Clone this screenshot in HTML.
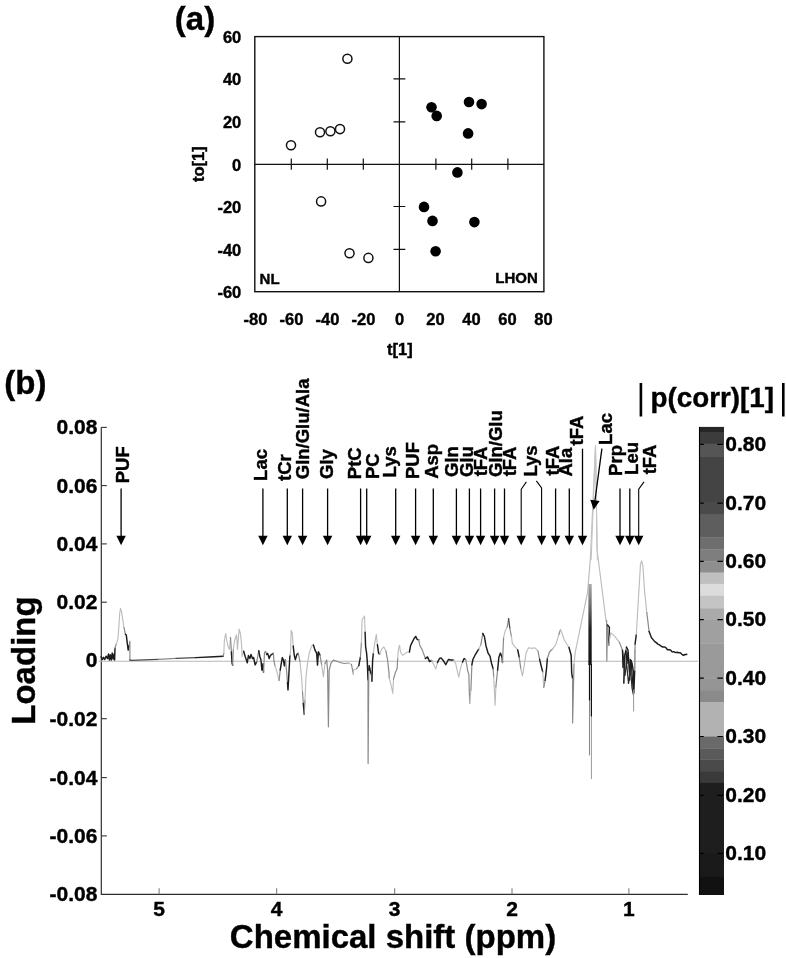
<!DOCTYPE html>
<html><head><meta charset="utf-8">
<style>
html,body{margin:0;padding:0;background:#fff;width:786px;height:958px;overflow:hidden}
svg{display:block;filter:grayscale(1) blur(0.3px)}
text{font-family:"Liberation Sans",sans-serif;font-weight:bold;fill:#000}
</style></head><body>
<svg width="786" height="958" viewBox="0 0 786 958">
<g stroke="#000" stroke-width="0.4">
<text x="174.85" y="29.95" font-size="33">(a)</text>
<g font-size="16.5" text-anchor="end"><text x="241.3" y="42.7">60</text><text x="241.3" y="85.1">40</text><text x="241.3" y="128.2">20</text><text x="241.3" y="170.6">0</text><text x="241.3" y="212.8">-20</text><text x="241.3" y="255.6">-40</text><text x="241.3" y="298.3">-60</text></g>
<g font-size="16.5" text-anchor="middle"><text x="255.5" y="324.6">-80</text><text x="291.5" y="324.6">-60</text><text x="327.5" y="324.6">-40</text><text x="363.5" y="324.6">-20</text><text x="399.5" y="324.6">0</text><text x="435.5" y="324.6">20</text><text x="471.5" y="324.6">40</text><text x="507.5" y="324.6">60</text><text x="543.5" y="324.6">80</text></g>
<text x="399.95" y="355.45" font-size="16.5" text-anchor="middle">t[1]</text>
<text x="203.65" y="164.2" font-size="16.5" text-anchor="middle" transform="rotate(-90 203.65 164.2)">to[1]</text>
<text x="259.55" y="283.6" font-size="15">NL</text>
<text x="537.75" y="283.45" font-size="15" text-anchor="end">LHON</text>
<text x="4.35" y="393.95" font-size="33">(b)</text>
<text x="35.0" y="724.7" font-size="33" transform="rotate(-90 35.0 724.7)">Loading</text>
<text x="229.8" y="948.1" font-size="33">Chemical shift (ppm)</text>
<g font-size="21" text-anchor="end"><text x="97.4" y="434.4">0.08</text><text x="97.4" y="492.6">0.06</text><text x="97.4" y="550.9">0.04</text><text x="97.4" y="609.2">0.02</text><text x="97.4" y="666.5">0</text><text x="97.4" y="725.7">-0.02</text><text x="97.4" y="784.6">-0.04</text><text x="97.4" y="842.9">-0.06</text><text x="97.4" y="901.2">-0.08</text></g>
<g font-size="21" text-anchor="middle"><text x="159.1" y="915.9">5</text><text x="276.7" y="915.9">4</text><text x="394.7" y="915.9">3</text><text x="512.0" y="915.9">2</text><text x="628.9" y="915.9">1</text></g>
<g font-size="21"><text x="725.3" y="450.9">0.80</text><text x="725.3" y="509.6">0.70</text><text x="725.3" y="567.8">0.60</text><text x="725.3" y="626.1">0.50</text><text x="725.3" y="684.7">0.40</text><text x="725.3" y="743.0">0.30</text><text x="725.3" y="801.9">0.20</text><text x="725.3" y="859.8">0.10</text></g>
<text x="650.55" y="407.3" font-size="27.8">p(corr)[1]</text>
<g><text x="128.8" y="483.3" font-size="18.5" transform="rotate(-90 128.8 483.3)">PUF</text><text x="267.35" y="480.9" font-size="18.5" transform="rotate(-90 267.35 480.9)">Lac</text><text x="290.6" y="480.9" font-size="18.5" transform="rotate(-90 290.6 480.9)">tCr</text><text x="308.6" y="479.25" font-size="18.5" transform="rotate(-90 308.6 479.25)">Gln/Glu/Ala</text><text x="332.8" y="478.95" font-size="18.5" transform="rotate(-90 332.8 478.95)">Gly</text><text x="361.0" y="479.2" font-size="18.5" transform="rotate(-90 361.0 479.2)">PtC</text><text x="378.95" y="479.05" font-size="18.5" transform="rotate(-90 378.95 479.05)">PC</text><text x="395.95" y="477.45" font-size="18.5" transform="rotate(-90 395.95 477.45)">Lys</text><text x="418.85" y="479.05" font-size="18.5" transform="rotate(-90 418.85 479.05)">PUF</text><text x="438.05" y="478.8" font-size="18.5" transform="rotate(-90 438.05 478.8)">Asp</text><text x="458.25" y="477.0" font-size="18.5" transform="rotate(-90 458.25 477.0)">Gln</text><text x="473.4" y="477.0" font-size="18.5" transform="rotate(-90 473.4 477.0)">Glu</text><text x="487.15" y="476.35" font-size="18.5" transform="rotate(-90 487.15 476.35)">tFA</text><text x="501.75" y="477.0" font-size="18.5" transform="rotate(-90 501.75 477.0)">Gln/Glu</text><text x="516.35" y="476.35" font-size="18.5" transform="rotate(-90 516.35 476.35)">tFA</text><text x="536.85" y="476.6" font-size="18.5" transform="rotate(-90 536.85 476.6)">Lys</text><text x="559.0" y="475.45" font-size="18.5" transform="rotate(-90 559.0 475.45)">tFA</text><text x="572.45" y="476.55" font-size="18.5" transform="rotate(-90 572.45 476.55)">Ala</text><text x="582.75" y="445.4" font-size="18.5" transform="rotate(-90 582.75 445.4)">tFA</text><text x="611.8" y="444.9" font-size="18.5" transform="rotate(-90 611.8 444.9)">Lac</text><text x="622.1" y="475.9" font-size="18.5" transform="rotate(-90 622.1 475.9)">Prp</text><text x="638.4" y="474.9" font-size="18.5" transform="rotate(-90 638.4 474.9)">Leu</text><text x="655.6" y="474.35" font-size="18.5" transform="rotate(-90 655.6 474.35)">tFA</text></g>
</g>
<!-- ===== Panel (a) ===== -->
<g stroke="#111" fill="none">
<rect x="254.8" y="36.6" width="289.1" height="255.1" stroke-width="1.4"/>
<line x1="254.8" y1="164.3" x2="543.9" y2="164.3" stroke-width="1.2"/>
<line x1="399.4" y1="36.6" x2="399.4" y2="291.7" stroke-width="1.2"/>
<path d="M291.3 158.5V169.8M327.3 158.5V169.8M363.3 158.5V169.8M435.9 158.5V169.8M471.7 158.5V169.8M507.9 158.5V169.8" stroke-width="1.2"/>
<path d="M393.5 78.8H405.3M393.5 121.9H405.3M393.5 206.5H405.3M393.5 249.3H405.3" stroke-width="1.2"/>
</g>
<g stroke="#111" stroke-width="1.5" fill="#fff">
<circle cx="347.4" cy="58.8" r="4.55"/><circle cx="291.0" cy="145.2" r="4.55"/><circle cx="320.0" cy="132.2" r="4.55"/>
<circle cx="330.4" cy="131.2" r="4.55"/><circle cx="340.0" cy="129.1" r="4.55"/><circle cx="321.1" cy="201.4" r="4.55"/>
<circle cx="349.5" cy="253.3" r="4.55"/><circle cx="368.4" cy="257.9" r="4.55"/>
</g>
<g fill="#000">
<circle cx="431.5" cy="107.2" r="5.3"/><circle cx="436.7" cy="115.9" r="5.3"/><circle cx="469.0" cy="102.0" r="5.3"/>
<circle cx="481.6" cy="104.1" r="5.3"/><circle cx="468.1" cy="133.4" r="5.3"/><circle cx="457.4" cy="172.4" r="5.3"/>
<circle cx="424.0" cy="206.9" r="5.3"/><circle cx="432.5" cy="220.9" r="5.3"/><circle cx="474.4" cy="222.1" r="5.3"/>
<circle cx="435.6" cy="251.3" r="5.3"/>
</g>
<!-- ===== Panel (b) ===== -->
<path d="M101.3 427.2V894.3H687.8" stroke="#2e2e2e" stroke-width="1.2" fill="none"/>
<g stroke="#333" stroke-width="1.1"><path d="M101.3 427.4h5.5"/><path d="M101.3 485.6h5.5"/><path d="M101.3 543.9h5.5"/><path d="M101.3 602.2h5.5"/><path d="M101.3 718.7h5.5"/><path d="M101.3 777.6h5.5"/><path d="M101.3 835.9h5.5"/></g>
<g stroke="#777" stroke-width="1"><path d="M159.1 894.2v-6"/><path d="M276.7 894.2v-6"/><path d="M394.7 894.2v-6"/><path d="M512.0 894.2v-6"/><path d="M628.9 894.2v-6"/></g>
<path d="M98.5 661.3H698" stroke="#b8b8b8" stroke-width="1.1"/>
<g fill="none" stroke-width="1.2" stroke-linejoin="round" stroke-linecap="round"><path d="M101.1 656.7 L102.5 659.5 L103.5 657.3 L104.7 659.5 L106.1 656.2 L107.5 658.6 L108.5 654.0 L109.4 660.0 L110.3 654.8 L111.3 660.0 L112.2 653.0 L113.2 659.1 L114.1 654.0 L114.6 660.0 L115.0 648.2" stroke="#1c1c1c" stroke-width="1.45"/><path d="M115.0 648.2 L116.4 643.6" stroke="#8a8a8a" stroke-width="1.2"/><path d="M116.4 643.6 L117.9 638.9 L118.8 627.6 L119.7 613.5 L120.5 608.3 L121.6 611.6 L122.5 618.2 L124.0 627.6" stroke="#bdbdbd" stroke-width="1.15"/><path d="M124.0 627.6 L125.4 634.2" stroke="#8a8a8a" stroke-width="1.2"/><path d="M125.4 634.2 L126.3 635.1 L127.2 642.6 L128.2 650.1 L129.1 645.4" stroke="#1c1c1c" stroke-width="1.45"/><path d="M129.1 645.4 L129.9 641.2 L129.9 660.0" stroke="#8a8a8a" stroke-width="1.2"/><path d="M129.9 660.0 L131.0 660.3 L158.3 659.4" stroke="#4a4a4a" stroke-width="1.35"/><path d="M158.3 659.4 L176.1 658.4" stroke="#8a8a8a" stroke-width="1.2"/><path d="M176.1 658.4 L195.8 657.6" stroke="#4a4a4a" stroke-width="1.35"/><path d="M195.8 657.6 L214.2 656.7 L223.2 656.2" stroke="#1c1c1c" stroke-width="1.45"/><path d="M223.2 656.2 L223.8 653.3" stroke="#8a8a8a" stroke-width="1.2"/><path d="M223.8 653.3 L224.4 640.5 L225.7 633.5 L227.0 641.8 L228.2 646.9 L229.5 649.4 L230.5 637.4" stroke="#bdbdbd" stroke-width="1.15"/><path d="M230.5 637.4 L231.4 652.0" stroke="#8a8a8a" stroke-width="1.2"/><path d="M231.4 652.0 L232.1 663.4 L232.7 665.3" stroke="#1c1c1c" stroke-width="1.45"/><path d="M232.7 665.3 L233.3 649.4" stroke="#8a8a8a" stroke-width="1.2"/><path d="M233.3 649.4 L234.6 640.5 L236.5 634.8 L237.5 649.4 L239.1 629.1 L240.3 632.9 L241.6 644.4 L242.1 656.5 L243.7 651.3" stroke="#bdbdbd" stroke-width="1.15"/><path d="M243.7 651.3 L245.2 656.5 L246.3 659.7 L247.3 662.8 L248.4 655.5 L249.9 658.6 L251.0 654.4 L252.5 658.6 L253.6 657.6 L255.1 664.9 L256.7 661.8" stroke="#1c1c1c" stroke-width="1.45"/><path d="M256.7 661.8 L257.7 656.5 L258.8 650.8" stroke="#8a8a8a" stroke-width="1.2"/><path d="M258.8 650.8 L259.8 656.5 L260.9 659.7 L261.9 670.1 L263.0 663.8 L263.5 672.2" stroke="#1c1c1c" stroke-width="1.45"/><path d="M263.5 672.2 L264.5 652.4 L265.6 651.3 L266.6 654.4" stroke="#8a8a8a" stroke-width="1.2"/><path d="M266.6 654.4 L267.7 653.4 L269.2 658.6 L270.3 655.5 L271.8 654.4 L273.4 653.4" stroke="#1c1c1c" stroke-width="1.45"/><path d="M273.4 653.4 L273.9 660.7 L275.0 665.9" stroke="#8a8a8a" stroke-width="1.2"/><path d="M275.0 665.9 L276.5 670.1 L277.6 674.3 L279.1 680.5" stroke="#bdbdbd" stroke-width="1.15"/><path d="M279.1 680.5 L280.2 670.1" stroke="#8a8a8a" stroke-width="1.2"/><path d="M280.2 670.1 L281.2 663.8 L282.3 657.6 L283.3 659.7 L284.4 665.9 L285.4 659.7" stroke="#1c1c1c" stroke-width="1.45"/><path d="M285.4 659.7 L286.5 670.1 L287.5 682.6" stroke="#8a8a8a" stroke-width="1.2"/><path d="M287.5 682.6 L288.0 689.9 L289.1 670.1 L289.9 655.5" stroke="#1c1c1c" stroke-width="1.45"/><path d="M289.9 655.5 L290.6 651.3 L291.1 630.4 L292.2 632.5 L293.2 646.1" stroke="#bdbdbd" stroke-width="1.15"/><path d="M293.2 646.1 L294.3 655.5 L295.3 659.7 L296.9 654.4 L298.3 653.4" stroke="#1c1c1c" stroke-width="1.45"/><path d="M298.3 653.4 L300.0 661.7" stroke="#8a8a8a" stroke-width="1.2"/><path d="M300.0 661.7 L301.7 678.4 L302.5 691.8" stroke="#bdbdbd" stroke-width="1.15"/><path d="M302.5 691.8 L303.3 703.5" stroke="#8a8a8a" stroke-width="1.2"/><path d="M303.3 703.5 L304.2 714.3" stroke="#1c1c1c" stroke-width="1.45"/><path d="M304.2 714.3 L305.0 700.1" stroke="#8a8a8a" stroke-width="1.2"/><path d="M305.0 700.1 L305.9 678.4 L307.5 663.4 L309.2 653.4 L311.7 645.9 L313.4 645.0" stroke="#bdbdbd" stroke-width="1.15"/><path d="M313.4 645.0 L315.0 650.1 L316.7 653.4 L317.5 665.1 L318.4 651.7 L320.0 655.1" stroke="#1c1c1c" stroke-width="1.45"/><path d="M320.0 655.1 L321.7 665.1" stroke="#8a8a8a" stroke-width="1.2"/><path d="M321.7 665.1 L323.4 676.8 L325.0 663.4" stroke="#bdbdbd" stroke-width="1.15"/><path d="M325.0 663.4 L326.7 660.1 L327.6 670.1 L328.4 726.8 L329.2 670.1 L330.9 663.4 L333.4 660.1 L338.4 661.7 L340.0 662.5 L344.2 663.5 L348.4 663.0" stroke="#8a8a8a" stroke-width="1.2"/><path d="M348.4 663.0 L351.5 664.6" stroke="#bdbdbd" stroke-width="1.15"/><path d="M351.5 664.6 L353.4 674.5" stroke="#8a8a8a" stroke-width="1.2"/><path d="M353.4 674.5 L353.6 669.8 L356.7 668.7" stroke="#bdbdbd" stroke-width="1.15"/><path d="M356.7 668.7 L358.8 665.6" stroke="#8a8a8a" stroke-width="1.2"/><path d="M358.8 665.6 L360.4 657.2" stroke="#1c1c1c" stroke-width="1.45"/><path d="M360.4 657.2 L361.4 642.6" stroke="#8a8a8a" stroke-width="1.2"/><path d="M361.4 642.6 L362.1 619.7 L363.5 617.6 L364.5 616.0 L365.1 632.2" stroke="#bdbdbd" stroke-width="1.15"/><path d="M365.1 632.2 L365.6 646.8 L366.6 653.1 L367.3 661.4 L368.0 680.0" stroke="#1c1c1c" stroke-width="1.45"/><path d="M368.0 680.0 L368.1 763.6 L368.8 670.1" stroke="#8a8a8a" stroke-width="1.2"/><path d="M368.8 670.1 L369.2 665.6 L370.3 670.8 L371.0 674.0" stroke="#1c1c1c" stroke-width="1.45"/><path d="M371.0 674.0 L371.9 681.3" stroke="#bdbdbd" stroke-width="1.15"/><path d="M371.9 681.3 L372.6 660.4 L373.4 653.1" stroke="#1c1c1c" stroke-width="1.45"/><path d="M373.4 653.1 L375.0 641.6 L376.3 634.3 L377.4 644.7" stroke="#bdbdbd" stroke-width="1.15"/><path d="M377.4 644.7 L378.6 653.1 L379.7 654.1" stroke="#1c1c1c" stroke-width="1.45"/><path d="M379.7 654.1 L381.8 648.9 L383.8 646.8 L385.9 651.0" stroke="#bdbdbd" stroke-width="1.15"/><path d="M385.9 651.0 L387.5 659.3 L388.8 670.9 L389.3 678.2" stroke="#8a8a8a" stroke-width="1.2"/><path d="M389.3 678.2 L390.9 684.4 L391.9 688.6 L392.8 693.3 L393.5 679.2" stroke="#bdbdbd" stroke-width="1.15"/><path d="M393.5 679.2 L395.6 671.9 L397.1 668.8 L397.7 658.4" stroke="#8a8a8a" stroke-width="1.2"/><path d="M397.7 658.4 L398.5 648.9 L399.5 645.2 L400.5 652.0 L402.6 655.2 L404.7 654.1 L407.3 652.0 L409.4 652.0" stroke="#bdbdbd" stroke-width="1.15"/><path d="M409.4 652.0 L410.5 645.8 L412.0 642.6 L414.1 638.5 L415.7 636.4 L417.2 639.5 L418.7 639.7" stroke="#1c1c1c" stroke-width="1.45"/><path d="M418.7 639.7 L419.7 644.9 L422.3 650.1 L425.4 658.5" stroke="#8a8a8a" stroke-width="1.2"/><path d="M425.4 658.5 L427.5 656.9 L429.6 661.6 L431.7 660.5" stroke="#1c1c1c" stroke-width="1.45"/><path d="M431.7 660.5 L433.8 664.7 L435.9 668.9 L437.4 662.6" stroke="#bdbdbd" stroke-width="1.15"/><path d="M437.4 662.6 L439.5 658.5 L441.1 657.9 L443.2 660.5 L445.8 664.7 L448.4 659.5 L451.0 660.0 L453.6 660.0" stroke="#1c1c1c" stroke-width="1.45"/><path d="M453.6 660.0 L455.7 663.7 L457.8 673.1 L458.8 677.2 L460.4 668.9 L462.5 662.1" stroke="#bdbdbd" stroke-width="1.15"/><path d="M462.5 662.1 L464.1 658.5 L465.6 659.5" stroke="#1c1c1c" stroke-width="1.45"/><path d="M465.6 659.5 L466.7 664.7 L467.7 671.0 L468.8 674.1 L469.7 703.5" stroke="#8a8a8a" stroke-width="1.2"/><path d="M469.7 703.5 L470.9 690.1" stroke="#bdbdbd" stroke-width="1.15"/><path d="M470.9 690.1 L471.9 664.7" stroke="#8a8a8a" stroke-width="1.2"/><path d="M471.9 664.7 L472.9 659.5 L475.5 654.3 L478.7 649.1" stroke="#1c1c1c" stroke-width="1.45"/><path d="M478.7 649.1 L480.8 644.9" stroke="#bdbdbd" stroke-width="1.15"/><path d="M480.8 644.9 L482.8 633.4" stroke="#8a8a8a" stroke-width="1.2"/><path d="M482.8 633.4 L484.4 636.5 L486.0 645.9 L488.1 653.2 L490.0 656.2 L491.6 663.5 L493.1 668.7" stroke="#1c1c1c" stroke-width="1.45"/><path d="M493.1 668.7 L493.7 676.8" stroke="#8a8a8a" stroke-width="1.2"/><path d="M493.7 676.8 L495.1 705.1 L495.9 686.8" stroke="#bdbdbd" stroke-width="1.15"/><path d="M495.9 686.8 L497.6 670.1" stroke="#8a8a8a" stroke-width="1.2"/><path d="M497.6 670.1 L498.9 657.2 L500.4 653.1 L502.0 657.2 L502.5 662.5" stroke="#1c1c1c" stroke-width="1.45"/><path d="M502.5 662.5 L503.0 651.0 L503.6 637.4" stroke="#8a8a8a" stroke-width="1.2"/><path d="M503.6 637.4 L505.1 631.1 L507.2 627.0" stroke="#bdbdbd" stroke-width="1.15"/><path d="M507.2 627.0 L508.6 618.6" stroke="#8a8a8a" stroke-width="1.2"/><path d="M508.6 618.6 L509.8 628.0" stroke="#4a4a4a" stroke-width="1.35"/><path d="M509.8 628.0 L511.4 636.4" stroke="#8a8a8a" stroke-width="1.2"/><path d="M511.4 636.4 L512.4 643.7 L515.1 646.8 L517.7 649.9" stroke="#bdbdbd" stroke-width="1.15"/><path d="M517.7 649.9 L519.2 657.2" stroke="#1c1c1c" stroke-width="1.45"/><path d="M519.2 657.2 L520.8 668.7" stroke="#8a8a8a" stroke-width="1.2"/><path d="M520.8 668.7 L522.4 676.0 L524.4 664.6 L526.0 653.1 L528.6 647.8 L531.8 648.4 L534.9 647.8 L538.0 651.0" stroke="#bdbdbd" stroke-width="1.15"/><path d="M538.0 651.0 L539.6 659.3" stroke="#8a8a8a" stroke-width="1.2"/><path d="M539.6 659.3 L541.1 665.6 L542.7 671.9" stroke="#1c1c1c" stroke-width="1.45"/><path d="M542.7 671.9 L543.8 687.4" stroke="#bdbdbd" stroke-width="1.15"/><path d="M543.8 687.4 L545.1 680.3" stroke="#8a8a8a" stroke-width="1.2"/><path d="M545.1 680.3 L546.4 669.8 L547.4 658.3" stroke="#1c1c1c" stroke-width="1.45"/><path d="M547.4 658.3 L549.5 652.0 L552.6 648.9" stroke="#8a8a8a" stroke-width="1.2"/><path d="M552.6 648.9 L555.8 644.7 L558.9 634.3" stroke="#bdbdbd" stroke-width="1.15"/><path d="M558.9 634.3 L560.5 629.6" stroke="#8a8a8a" stroke-width="1.2"/><path d="M560.5 629.6 L562.0 633.2 L564.1 639.5 L567.2 644.7 L569.0 647.5" stroke="#bdbdbd" stroke-width="1.15"/><path d="M569.0 647.5 L571.2 655.5 L571.7 673.2 L572.6 678.6" stroke="#1c1c1c" stroke-width="1.45"/><path d="M572.6 678.6 L572.6 722.9 L574.0 664.4" stroke="#8a8a8a" stroke-width="1.2"/><path d="M574.0 664.4 L575.3 651.9 L577.9 639.5 L581.5 621.8 L587.6 592.1 L590.4 558.1 L595.5 445.8 L597.1 550.0 L606.0 620.6 L606.6 620.6" stroke="#bdbdbd" stroke-width="1.15"/><path d="M606.6 620.6 L606.8 661.0 L607.5 625.0" stroke="#8a8a8a" stroke-width="1.2"/><path d="M607.5 625.0 L609.4 627.4 L608.7 645.0" stroke="#1c1c1c" stroke-width="1.45"/><path d="M608.7 645.0 L610.7 632.8 L614.7 636.1 L619.4 642.4" stroke="#bdbdbd" stroke-width="1.15"/><path d="M619.4 642.4 L622.5 650.2" stroke="#8a8a8a" stroke-width="1.2"/><path d="M622.5 650.2 L623.3 659.6" stroke="#1c1c1c" stroke-width="1.45"/><path d="M623.3 659.6 L623.8 683.1" stroke="#bdbdbd" stroke-width="1.15"/><path d="M623.8 683.1 L624.9 656.5" stroke="#1c1c1c" stroke-width="1.45"/><path d="M624.9 656.5 L626.4 647.1" stroke="#8a8a8a" stroke-width="1.2"/><path d="M626.4 647.1 L628.0 650.2 L628.8 662.7" stroke="#1c1c1c" stroke-width="1.45"/><path d="M628.8 662.7 L629.6 680.0" stroke="#8a8a8a" stroke-width="1.2"/><path d="M629.6 680.0 L630.4 659.6 L631.9 662.7 L633.5 672.1 L633.8 693.0 L634.7 670.6" stroke="#1c1c1c" stroke-width="1.45"/><path d="M634.7 670.6 L635.1 644.0" stroke="#8a8a8a" stroke-width="1.2"/><path d="M635.1 644.0 L636.3 634.5" stroke="#1c1c1c" stroke-width="1.45"/><path d="M636.3 634.5 L637.4 615.8 L639.0 589.1 L640.5 564.1 L641.6 561.0 L642.9 565.7 L644.4 589.1 L646.8 612.6" stroke="#bdbdbd" stroke-width="1.15"/><path d="M646.8 612.6 L649.1 631.4" stroke="#8a8a8a" stroke-width="1.2"/><path d="M649.1 631.4 L651.5 637.7 L653.1 639.6 L654.7 641.6 L656.3 642.6 L657.9 644.1 L659.5 644.9 L661.1 646.2 L662.7 647.0 L664.3 646.9 L665.9 647.7 L667.5 649.8 L669.1 649.6 L670.7 650.2 L672.3 651.9 L673.9 651.7 L675.5 652.6 L677.1 652.3 L678.7 652.8 L680.3 652.7 L681.9 654.3 L683.5 655.4 L685.1 654.5 L686.7 654.5 L686.7 654.1" stroke="#1c1c1c" stroke-width="1.45"/></g>

<defs><linearGradient id="lacg" x1="0" y1="0" x2="0" y2="1">
<stop offset="0" stop-color="#aaa"/><stop offset="0.3" stop-color="#666"/><stop offset="0.55" stop-color="#222"/><stop offset="1" stop-color="#111"/>
</linearGradient></defs>
<rect x="588.4" y="584" width="3.3" height="81" fill="url(#lacg)"/>
<g fill="none" stroke-linecap="round">
<path d="M589.5 660 L589.5 755" stroke="#888" stroke-width="1"/>
<path d="M589.5 660 L589.5 700" stroke="#111" stroke-width="1.2"/>
<path d="M591.4 664 L591.4 778.6" stroke="#999" stroke-width="1"/>
<path d="M591.4 664 L591.4 716" stroke="#111" stroke-width="1.2"/>
<path d="M595.5 446 L591.2 560" stroke="#c4c4c4" stroke-width="1"/>
<path d="M595.5 446 L597.3 560" stroke="#c4c4c4" stroke-width="1"/>
<path d="M622.5 652 L623 668 L624.5 656 L626 650 L627 664 L628 652 L629.5 672 L631 660 L632.5 680 L633.5 693" stroke="#1c1c1c" stroke-width="1.3"/>
<path d="M623.5 660 L625 676 L626.5 662 L628.5 684 L630.5 668 L632 688 L633.5 695" stroke="#2a2a2a" stroke-width="1.2"/>
<path d="M633.6 690 L633.6 711" stroke="#999" stroke-width="1"/>
<path d="M634.8 650 L634.8 669" stroke="#999" stroke-width="1"/>
</g>

<rect x="699.0" y="426.9" width="25.0" height="6.0" fill="#262626"/><rect x="699.0" y="432.5" width="25.0" height="11.6" fill="#3c3c3c"/><rect x="699.0" y="443.8" width="25.0" height="13.5" fill="#555555"/><rect x="699.0" y="457.0" width="25.0" height="45.3" fill="#444444"/><rect x="699.0" y="502.0" width="25.0" height="12.9" fill="#4a4a4a"/><rect x="699.0" y="514.6" width="25.0" height="23.2" fill="#5e5e5e"/><rect x="699.0" y="537.5" width="25.0" height="12.2" fill="#6e6e6e"/><rect x="699.0" y="549.4" width="25.0" height="12.2" fill="#7e7e7e"/><rect x="699.0" y="561.3" width="25.0" height="11.6" fill="#8e8e8e"/><rect x="699.0" y="572.6" width="25.0" height="11.6" fill="#c0c0c0"/><rect x="699.0" y="583.9" width="25.0" height="12.2" fill="#dcdcdc"/><rect x="699.0" y="595.8" width="25.0" height="12.8" fill="#c4c4c4"/><rect x="699.0" y="608.3" width="25.0" height="11.6" fill="#aaaaaa"/><rect x="699.0" y="619.6" width="25.0" height="24.1" fill="#a0a0a0"/><rect x="699.0" y="643.4" width="25.0" height="35.1" fill="#9a9a9a"/><rect x="699.0" y="678.2" width="25.0" height="12.2" fill="#959595"/><rect x="699.0" y="690.1" width="25.0" height="12.2" fill="#8a8a8a"/><rect x="699.0" y="702.0" width="25.0" height="34.8" fill="#b2b2b2"/><rect x="699.0" y="736.5" width="25.0" height="12.2" fill="#6a6a6a"/><rect x="699.0" y="748.4" width="25.0" height="11.3" fill="#5a5a5a"/><rect x="699.0" y="759.4" width="25.0" height="12.0" fill="#4a4a4a"/><rect x="699.0" y="771.1" width="25.0" height="12.1" fill="#3a3a3a"/><rect x="699.0" y="782.9" width="25.0" height="70.4" fill="#1e1e1e"/><rect x="699.0" y="853.0" width="25.0" height="24.2" fill="#1a1a1a"/><rect x="699.0" y="876.9" width="25.0" height="18.1" fill="#111111"/>
<path d="M699.5 426.9V894.7" stroke="#000" stroke-width="1.1"/>
<path d="M700 444.4h3.8M722.9 444.4h-5.5" stroke="#000" stroke-width="1.2"/><path d="M700 503.1h3.8M722.9 503.1h-5.5" stroke="#000" stroke-width="1.2"/><path d="M700 561.3h3.8M722.9 561.3h-5.5" stroke="#000" stroke-width="1.2"/><path d="M700 619.6h3.8M722.9 619.6h-5.5" stroke="#000" stroke-width="1.2"/><path d="M700 678.2h3.8M722.9 678.2h-5.5" stroke="#000" stroke-width="1.2"/><path d="M700 736.5h3.8M722.9 736.5h-5.5" stroke="#000" stroke-width="1.2"/><path d="M700 795.4h3.8M722.9 795.4h-5.5" stroke="#000" stroke-width="1.2"/><path d="M700 853.3h3.8M722.9 853.3h-5.5" stroke="#000" stroke-width="1.2"/>
<path d="M640.9 382.9V416.6M783.3 382.9V416.6" stroke="#000" stroke-width="2.6"/>
<g><path d="M121.1 488.5V536.8000000000001" stroke="#000" stroke-width="1.3"/><path d="M116.39999999999999 535.8000000000001H125.8L121.1 545.2Z" fill="#000"/><path d="M262.9 488.5V536.8000000000001" stroke="#000" stroke-width="1.3"/><path d="M258.2 535.8000000000001H267.59999999999997L262.9 545.2Z" fill="#000"/><path d="M287.3 488.5V536.8000000000001" stroke="#000" stroke-width="1.3"/><path d="M282.6 535.8000000000001H292.0L287.3 545.2Z" fill="#000"/><path d="M302.6 488.5V536.8000000000001" stroke="#000" stroke-width="1.3"/><path d="M297.90000000000003 535.8000000000001H307.3L302.6 545.2Z" fill="#000"/><path d="M327.6 488.5V536.8000000000001" stroke="#000" stroke-width="1.3"/><path d="M322.90000000000003 535.8000000000001H332.3L327.6 545.2Z" fill="#000"/><path d="M360.6 488.5V536.8000000000001" stroke="#000" stroke-width="1.3"/><path d="M355.90000000000003 535.8000000000001H365.3L360.6 545.2Z" fill="#000"/><path d="M366.7 488.5V536.8000000000001" stroke="#000" stroke-width="1.3"/><path d="M362.0 535.8000000000001H371.4L366.7 545.2Z" fill="#000"/><path d="M395.7 488.5V536.8000000000001" stroke="#000" stroke-width="1.3"/><path d="M391.0 535.8000000000001H400.4L395.7 545.2Z" fill="#000"/><path d="M415.6 488.5V536.8000000000001" stroke="#000" stroke-width="1.3"/><path d="M410.90000000000003 535.8000000000001H420.3L415.6 545.2Z" fill="#000"/><path d="M433.3 488.5V536.8000000000001" stroke="#000" stroke-width="1.3"/><path d="M428.6 535.8000000000001H438.0L433.3 545.2Z" fill="#000"/><path d="M456.4 488.5V536.8000000000001" stroke="#000" stroke-width="1.3"/><path d="M451.7 535.8000000000001H461.09999999999997L456.4 545.2Z" fill="#000"/><path d="M469.4 488.5V536.8000000000001" stroke="#000" stroke-width="1.3"/><path d="M464.7 535.8000000000001H474.09999999999997L469.4 545.2Z" fill="#000"/><path d="M480.6 488.5V536.8000000000001" stroke="#000" stroke-width="1.3"/><path d="M475.90000000000003 535.8000000000001H485.3L480.6 545.2Z" fill="#000"/><path d="M494.6 488.5V536.8000000000001" stroke="#000" stroke-width="1.3"/><path d="M489.90000000000003 535.8000000000001H499.3L494.6 545.2Z" fill="#000"/><path d="M504.5 488.5V536.8000000000001" stroke="#000" stroke-width="1.3"/><path d="M499.8 535.8000000000001H509.2L504.5 545.2Z" fill="#000"/><path d="M555.6 488.5V536.8000000000001" stroke="#000" stroke-width="1.3"/><path d="M550.9 535.8000000000001H560.3000000000001L555.6 545.2Z" fill="#000"/><path d="M569.3 488.5V536.8000000000001" stroke="#000" stroke-width="1.3"/><path d="M564.5999999999999 535.8000000000001H574.0L569.3 545.2Z" fill="#000"/><path d="M620.0 488.5V536.8000000000001" stroke="#000" stroke-width="1.3"/><path d="M615.3 535.8000000000001H624.7L620.0 545.2Z" fill="#000"/><path d="M629.8 488.5V536.8000000000001" stroke="#000" stroke-width="1.3"/><path d="M625.0999999999999 535.8000000000001H634.5L629.8 545.2Z" fill="#000"/><path d="M582.5 448.7V536.8000000000001" stroke="#000" stroke-width="1.3"/><path d="M577.8 535.8000000000001H587.2L582.5 545.2Z" fill="#000"/><path d="M526.4 481.9L521.2 489.3V536.8000000000001" stroke="#000" stroke-width="1.1" fill="none"/><path d="M516.5 535.8000000000001H525.9000000000001L521.2 545.2Z" fill="#000"/><path d="M536.4 480.9L541.6 488.0V536.8000000000001" stroke="#000" stroke-width="1.1" fill="none"/><path d="M536.9 535.8000000000001H546.3000000000001L541.6 545.2Z" fill="#000"/><path d="M644.0 481.9L638.7 489.3V536.8000000000001" stroke="#000" stroke-width="1.1" fill="none"/><path d="M634.0 535.8000000000001H643.4000000000001L638.7 545.2Z" fill="#000"/><path d="M601.9 448.7L594.82 501.47" stroke="#000" stroke-width="1.3"/><path d="M590.29 499.86L599.61 501.11L593.7 509.8Z" fill="#000"/></g>
</svg>
</body></html>
